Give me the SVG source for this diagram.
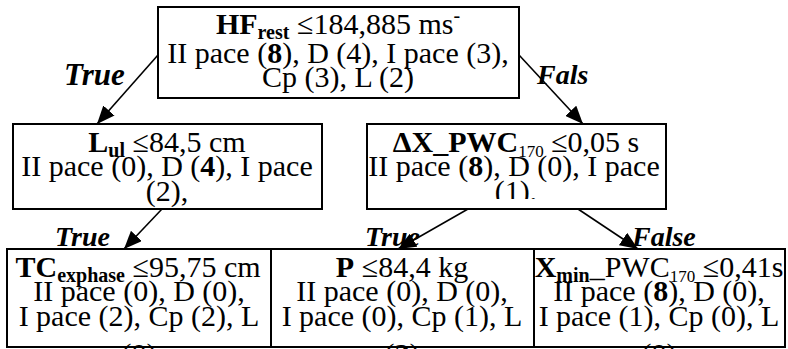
<svg xmlns="http://www.w3.org/2000/svg" width="788" height="349" viewBox="0 0 788 349">
  <style>
    .t{font-family:"Liberation Serif","Times New Roman",serif;font-size:30px;fill:#000;text-anchor:middle}
    .b{font-weight:bold}
    .s{font-size:20px}
    .lbl{font-family:"Liberation Serif","Times New Roman",serif;font-size:28px;font-weight:bold;font-style:italic;fill:#000}
    .box{fill:#fff;stroke:#000;stroke-width:2}
    .edge{stroke:#000;stroke-width:1.6;fill:none;marker-end:url(#ah)}
  </style>
  <defs>
    <marker id="ah" markerUnits="userSpaceOnUse" markerWidth="18" markerHeight="15" refX="18" refY="7.5" orient="auto">
      <path d="M0,0 L18,7.5 L0,15 Z" fill="#000"/>
    </marker>
    <clipPath id="clipMR"><rect x="367" y="124" width="299" height="75"/></clipPath>
  </defs>
  <rect width="788" height="349" fill="#fff"/>

  <!-- root split -->
  <g id="node-root">
    <rect class="box" x="158" y="7" width="361" height="91"/>
    <text class="t" x="338" y="34"><tspan class="b">HF</tspan><tspan class="b s" dy="5">rest</tspan><tspan dy="-5"> ≤184,885 ms</tspan><tspan class="s" dy="-12">-</tspan></text>
    <text class="t" x="338" y="63">II pace (<tspan class="b">8</tspan>), D (4), I pace (3),</text>
    <text class="t" x="338" y="87">Cp (3), L (2)</text>
  </g>

  <!-- left child -->
  <g id="node-lul">
    <rect class="box" x="13" y="124" width="309" height="85"/>
    <text class="t" x="167" y="152"><tspan class="b">L</tspan><tspan class="b s" dy="5">ul</tspan><tspan dy="-5"> ≤84,5 cm</tspan></text>
    <text class="t" x="167" y="176">II pace (0), D (<tspan class="b">4</tspan>), I pace</text>
    <text class="t" x="167" y="201">(2),</text>
  </g>

  <!-- right child -->
  <g id="node-dx">
    <rect class="box" x="367" y="124" width="299" height="85"/>
    <g clip-path="url(#clipMR)">
      <text class="t" x="516" y="152"><tspan class="b">ΔX_PWC</tspan><tspan style="font-size:17px" dy="5">170</tspan><tspan dy="-5"> ≤0,05 s</tspan></text>
      <text class="t" x="514" y="176">II pace (<tspan class="b">8</tspan>), D (0), I pace</text>
      <text class="t" x="516" y="201">(1),</text>
    </g>
  </g>

  <!-- leaves -->
  <g id="node-tc">
    <rect class="box" x="7" y="249" width="264" height="98"/>
    <text class="t" x="138" y="277"><tspan class="b">TC</tspan><tspan class="b s" dy="5">exphase</tspan><tspan dy="-5"> ≤95,75 cm</tspan></text>
    <text class="t" x="139" y="301">II pace (0), D (0),</text>
    <text class="t" x="139" y="326">I pace (2), Cp (2), L</text>
    <text class="t" x="139" y="364">(0)</text>
  </g>
  <g id="node-p">
    <rect class="box" x="271" y="249" width="263" height="98"/>
    <text class="t" x="402" y="277"><tspan class="b">P</tspan> ≤84,4 kg</text>
    <text class="t" x="402" y="301">II pace (0), D (0),</text>
    <text class="t" x="402" y="326">I pace (0), Cp (1), L</text>
    <text class="t" x="402" y="364">(<tspan class="b">2</tspan>)</text>
  </g>
  <g id="node-xmin">
    <rect class="box" x="534" y="249" width="251" height="98"/>
    <text class="t" x="659" y="277"><tspan class="b">X</tspan><tspan class="b s" dy="5">min</tspan><tspan dy="-5">_PWC</tspan><tspan style="font-size:17px" dy="5">170</tspan><tspan dy="-5"> ≤0,41s</tspan></text>
    <text class="t" x="659" y="301">II pace (<tspan class="b">8</tspan>), D (0),</text>
    <text class="t" x="659" y="326">I pace (1), Cp (0), L</text>
    <text class="t" x="659" y="364">(0)</text>
  </g>

  <!-- connectors -->
  <g id="edges">
    <line class="edge" x1="158" y1="55" x2="97" y2="124"/>
    <line class="edge" x1="519" y1="55" x2="583" y2="124"/>
    <line class="edge" x1="162" y1="209" x2="124" y2="249"/>
    <line class="edge" x1="468" y1="209" x2="398" y2="249"/>
    <line class="edge" x1="578" y1="209" x2="638" y2="249"/>
    <text class="lbl" x="64" y="85" style="font-size:31px">True</text>
    <text class="lbl" x="537" y="84">Fals</text>
    <text class="lbl" x="55" y="246">True</text>
    <text class="lbl" x="365" y="246">True</text>
    <text class="lbl" x="632" y="246">False</text>
  </g>
</svg>
